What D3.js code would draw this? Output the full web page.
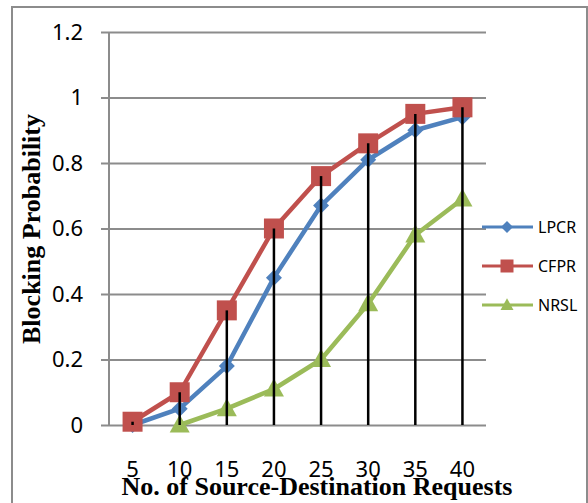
<!DOCTYPE html>
<meta charset="utf-8">
<script src="https://cdn.jsdelivr.net/npm/d3@7"></script>
<style>
body { margin: 0; background: #fff; }
.tick text { font-family: "Noto Sans", sans-serif; fill: #000; }
.title { font-family: "Liberation Serif", serif; font-weight: bold; fill: #000; }
</style>
<body>
<script>

var width = 588
var height = 503

// data
var requests = [5, 10, 15, 20, 25, 30, 35, 40]
var lpcr = [0.0, 0.05, 0.18, 0.45, 0.67, 0.81, 0.90, 0.94]
var cfpr = [0.01, 0.10, 0.35, 0.60, 0.76, 0.86, 0.95, 0.97]
var nrsl = [null, 0.0, 0.05, 0.11, 0.20, 0.37, 0.58, 0.69]
var yTicks = [0, 0.2, 0.4, 0.6, 0.8, 1, 1.2]

var series = [
  {name: 'LPCR', values: lpcr, color: '#4F81BD', shape: 'diamond'},
  {name: 'CFPR', values: cfpr, color: '#C0504D', shape: 'square'},
  {name: 'NRSL', values: nrsl, color: '#9BBB59', shape: 'triangle'}
]

var plot = {left: 109, right: 486, top: 32, bottom: 425}

var svg = d3.select("body").append("svg")
            .attr("width", width)
            .attr("height", height)

// outer frame
svg.append("rect")
   .attr("x", 12).attr("y", 7)
   .attr("width", 575).attr("height", 510)
   .attr("fill", "none").attr("stroke", "#8c8c8c").attr("stroke-width", 2)

var x = d3.scaleBand().domain(requests).range([plot.left, plot.right])
var y = d3.scaleLinear().domain([0, 1.2]).range([plot.bottom, plot.top])

function cx(d) { return x(d) + x.bandwidth() / 2 }

// gridlines + y axis
var yAxis = svg.append("g")
    .attr("transform", "translate(" + plot.left + ",0)")
    .call(d3.axisLeft(y).tickValues(yTicks).tickFormat(d3.format("~g"))
            .tickSize(-(plot.right - plot.left)).tickPadding(26))
yAxis.select(".domain").remove()
yAxis.selectAll(".tick line")
     .attr("x1", -8)
     .attr("stroke", "#8c8c8c").attr("stroke-width", 2)
yAxis.selectAll(".tick text").style("font-size", "22px")

svg.append("line")
   .attr("x1", plot.left).attr("x2", plot.left)
   .attr("y1", plot.top).attr("y2", plot.bottom)
   .attr("stroke", "#8c8c8c").attr("stroke-width", 2)

// x axis labels
var xAxis = svg.append("g")
    .attr("transform", "translate(0," + plot.bottom + ")")
    .call(d3.axisBottom(x).tickSize(0).tickPadding(36))
xAxis.select(".domain").remove()
xAxis.selectAll(".tick text").style("font-size", "22px")

// symbols
function shapePath(shape, s) {
  if (shape == 'diamond') return "M0," + (-s) + "L" + s + ",0L0," + s + "L" + (-s) + ",0Z"
  if (shape == 'square') return "M" + (-s) + "," + (-s) + "h" + (2 * s) + "v" + (2 * s) + "h" + (-2 * s) + "Z"
  return "M0," + (-s * 1.05) + "L" + s + "," + (s * 0.75) + "L" + (-s) + "," + (s * 0.75) + "Z"
}
var markerSize = {diamond: 8, square: 10, triangle: 10}

var line = d3.line()
    .defined(function(d) { return d.v != null })
    .x(function(d) { return cx(d.x) })
    .y(function(d) { return y(d.v) })

series.forEach(function(s) {
  var pts = requests.map(function(r, i) { return {x: r, v: s.values[i]} })
  svg.append("path")
     .attr("d", line(pts))
     .attr("fill", "none")
     .attr("stroke", s.color)
     .attr("stroke-width", 4.5)
     .attr("stroke-linejoin", "round")
  svg.selectAll(".m-" + s.name)
     .data(pts.filter(function(d) { return d.v != null }))
     .enter().append("path")
       .attr("transform", function(d) { return "translate(" + cx(d.x) + "," + y(d.v) + ")" })
       .attr("d", shapePath(s.shape, markerSize[s.shape]))
       .attr("fill", s.color)
})

// drop lines from CFPR down to zero
svg.selectAll(".drop")
   .data(requests.map(function(r, i) { return {x: r, v: cfpr[i]} }))
   .enter().append("line")
     .attr("x1", function(d) { return cx(d.x) })
     .attr("x2", function(d) { return cx(d.x) })
     .attr("y1", function(d) { return y(d.v) })
     .attr("y2", y(0))
     .attr("stroke", "#000").attr("stroke-width", 2.5)

// legend
var legend = svg.append("g")
series.forEach(function(s, i) {
  var ly = 227 + i * 39
  legend.append("line")
        .attr("x1", 482).attr("x2", 533).attr("y1", ly).attr("y2", ly)
        .attr("stroke", s.color).attr("stroke-width", 3)
  legend.append("path")
        .attr("transform", "translate(507," + ly + ")")
        .attr("d", shapePath(s.shape, s.shape == 'diamond' ? 6 : 6.5))
        .attr("fill", s.color)
  legend.append("text")
        .attr("x", 538).attr("y", ly + 6)
        .style("font-family", "'Noto Sans', sans-serif")
        .style("font-size", "16px")
        .text(s.name)
})

// titles
svg.append("text")
   .attr("class", "title")
   .attr("x", 317).attr("y", 495)
   .attr("text-anchor", "middle")
   .style("font-size", "26px")
   .text("No. of Source-Destination Requests")

svg.append("text")
   .attr("class", "title")
   .attr("transform", "translate(40,229) rotate(-90)")
   .attr("text-anchor", "middle")
   .style("font-size", "26px")
   .text("Blocking Probability")

</script>
</body>
